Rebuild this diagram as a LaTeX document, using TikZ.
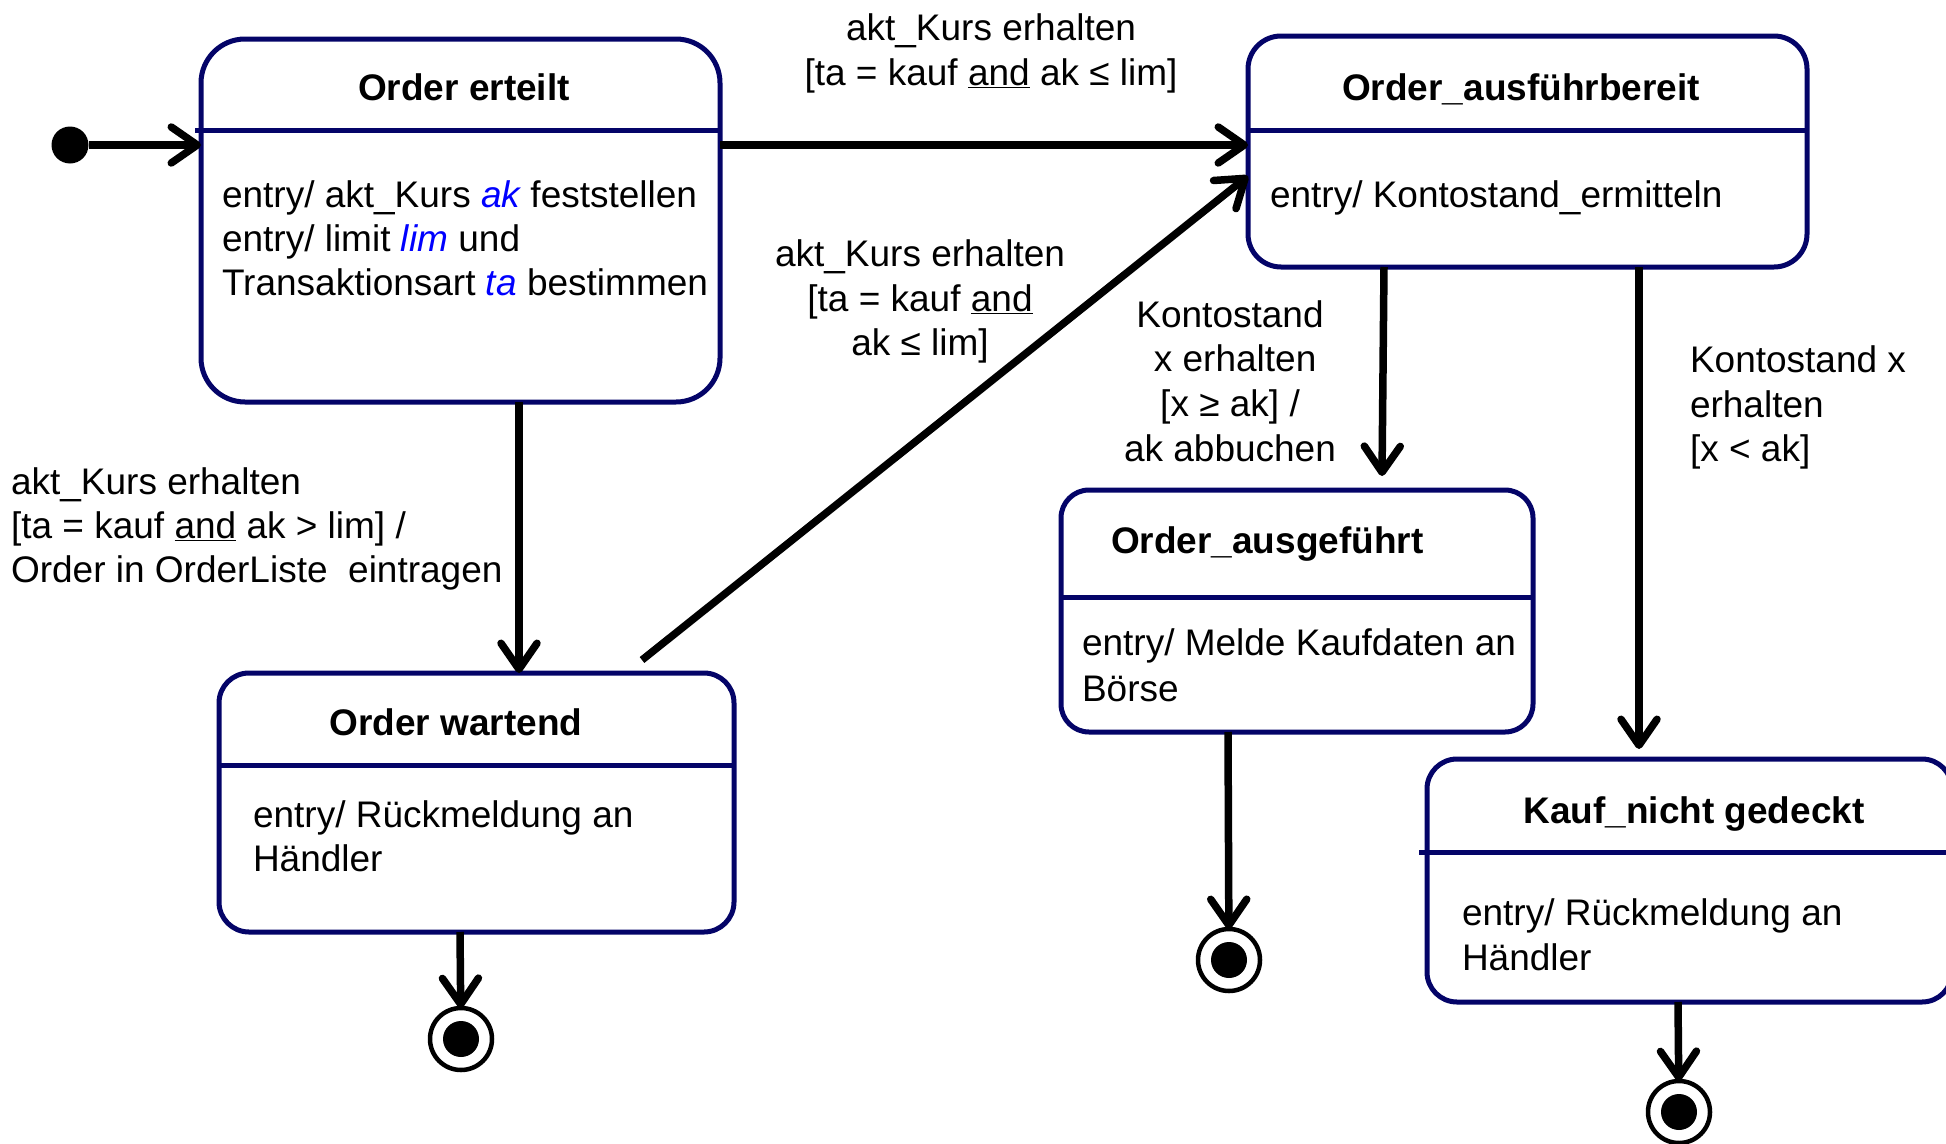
\documentclass[tikz,border=0pt]{standalone}
\usepackage{fontspec}
\setmainfont{Liberation Sans}
\usetikzlibrary{arrows.meta,calc}
\definecolor{statenavy}{RGB}{4,4,104}
\definecolor{varblue}{RGB}{0,0,255}
\newcommand{\kv}[1]{\textcolor{varblue}{\itshape #1}}
\begin{document}
\begin{tikzpicture}[x=1pt,y=-1pt,
  every node/.style={font=\fontsize{37}{44}\selectfont, inner sep=0pt, outer sep=0pt},
  state/.style={draw=statenavy, line width=5pt, rounded corners=#1},
  divider/.style={draw=statenavy, line width=5pt},
  title/.style={anchor=base, font=\fontsize{37}{44}\selectfont\bfseries},
  lbl/.style={anchor=base west},
  clbl/.style={anchor=base},
  trans/.style={line width=7.5pt, -{Straight Barb[length=26pt, width=36pt, line width=7.5pt, round]}},
  initial/.style={circle, fill=black, minimum size=37pt},
  final/.style={circle, draw=black, line width=4.5pt, minimum size=62pt}]

\useasboundingbox (0,0) rectangle (1946,1143);

% states
\node[state=44pt, minimum width=519pt, minimum height=363pt] (erteilt) at (460.5,220.5) {};
\node[state=33pt, minimum width=559pt, minimum height=231pt] (ausf) at (1527.5,151.5) {};
\node[state=30pt, minimum width=515pt, minimum height=259pt] (wartend) at (476.5,802.5) {};
\node[state=28pt, minimum width=472pt, minimum height=242pt] (ausgef) at (1297,611) {};
\node[state=30pt, minimum width=525pt, minimum height=243pt] (kauf) at (1689.5,880.5) {};

% compartment lines
\draw[divider] ($(erteilt.west |- 0,130)+(-6,0)$) -- (erteilt.east |- 0,130);
\draw[divider] (ausf.west |- 0,130) -- (ausf.east |- 0,130);
\draw[divider] (wartend.west |- 0,765) -- (wartend.east |- 0,765);
\draw[divider] (ausgef.west |- 0,597) -- (ausgef.east |- 0,597);
\draw[divider] ($(kauf.west |- 0,852)+(-8,0)$) -- (kauf.east |- 0,852);

% state texts
\node[title] (t1) at (464,100) {Order erteilt};
\node[lbl] (b11) at (222,207) {entry/ akt\_Kurs \kv{ak} feststellen};
\node[lbl] (b12) at (222,251) {entry/ limit \kv{lim} und};
\node[lbl] (b13) at (222,295) {Transaktionsart \kv{ta} bestimmen};

\node[title] (t2) at (1521,100) {Order\_ausführbereit};
\node[lbl] (b21) at (1270,207) {entry/ Kontostand\_ermitteln};

\node[title] (t3) at (456,735) {Order wartend};
\node[lbl] (b31) at (253,827) {entry/ Rückmeldung an};
\node[lbl] (b32) at (253,871) {Händler};

\node[title, anchor=base west] (t4) at (1111,553) {Order\_ausgeführt};
\node[lbl] (b41) at (1082,655) {entry/ Melde Kaufdaten an};
\node[lbl] (b42) at (1082,701) {Börse};

\node[title] (t5) at (1694,823) {Kauf\_nicht gedeckt};
\node[lbl] (b51) at (1462,925) {entry/ Rückmeldung an};
\node[lbl] (b52) at (1462,970) {Händler};

% pseudo states
\node[initial] (init) at (70,145) {};
\node[final] (end1) at (461,1039) {};
\node[final] (end2) at (1229,960) {};
\node[final] (end3) at (1679,1112) {};
\fill (end1.center) circle[radius=18];
\fill (end2.center) circle[radius=18];
\fill (end3.center) circle[radius=18];

% transitions
\draw[trans] (init) -- (erteilt.west |- init);
\draw[trans] (erteilt.east |- init) -- (ausf.west |- init);

\coordinate (diagstart) at ($(wartend.north)+(165.5,-13)$);
\draw[trans] (diagstart) -- ($(ausf.west)+(0,24.5)$);

\coordinate (e1) at ($(erteilt.south)+(58.5,0)$);
\draw[trans] (e1) -- (e1 |- wartend.north);

\coordinate (a1) at ($(ausf.south)+(-143.5,0)$);
\draw[trans] (a1) -- ($(ausgef.north)+(85,-14)$);

\coordinate (a2) at ($(ausf.south)+(111.5,0)$);
\draw[trans] (a2) -- ($(a2 |- kauf.north)+(0,-10)$);

\draw[trans] ($(wartend.south)+(-16.5,0)$) -- (end1);
\draw[trans] ($(ausgef.south)+(-69,0)$) -- (end2);
\draw[trans] ($(kauf.south)+(-11.5,0)$) -- (end3);

% transition labels
\node[clbl] (l11) at (991,40) {akt\_Kurs erhalten};
\node[clbl] (l12) at (991,85) {[ta = kauf \underline{and} ak ≤ lim]};

\node[clbl] (l21) at (920,266) {akt\_Kurs erhalten};
\node[clbl] (l22) at (920,311) {[ta = kauf \underline{and}};
\node[clbl] (l23) at (920,355) {ak ≤ lim]};

\node[lbl] (l31) at (11,494) {akt\_Kurs erhalten};
\node[lbl] (l32) at (11,538) {[ta = kauf \underline{and} ak > lim] /};
\node[lbl] (l33) at (11,582) {Order in OrderListe\ \ eintragen};

\node[clbl] (l41) at (1230,327) {Kontostand};
\node[clbl] (l42) at (1230,371) {\ x erhalten};
\node[clbl] (l43) at (1230,416) {[x ≥ ak] /};
\node[clbl] (l44) at (1230,461) {ak abbuchen};

\node[lbl] (l51) at (1690,372) {Kontostand x};
\node[lbl] (l52) at (1690,417) {erhalten};
\node[lbl] (l53) at (1690,461) {[x < ak]};
\end{tikzpicture}
\end{document}
